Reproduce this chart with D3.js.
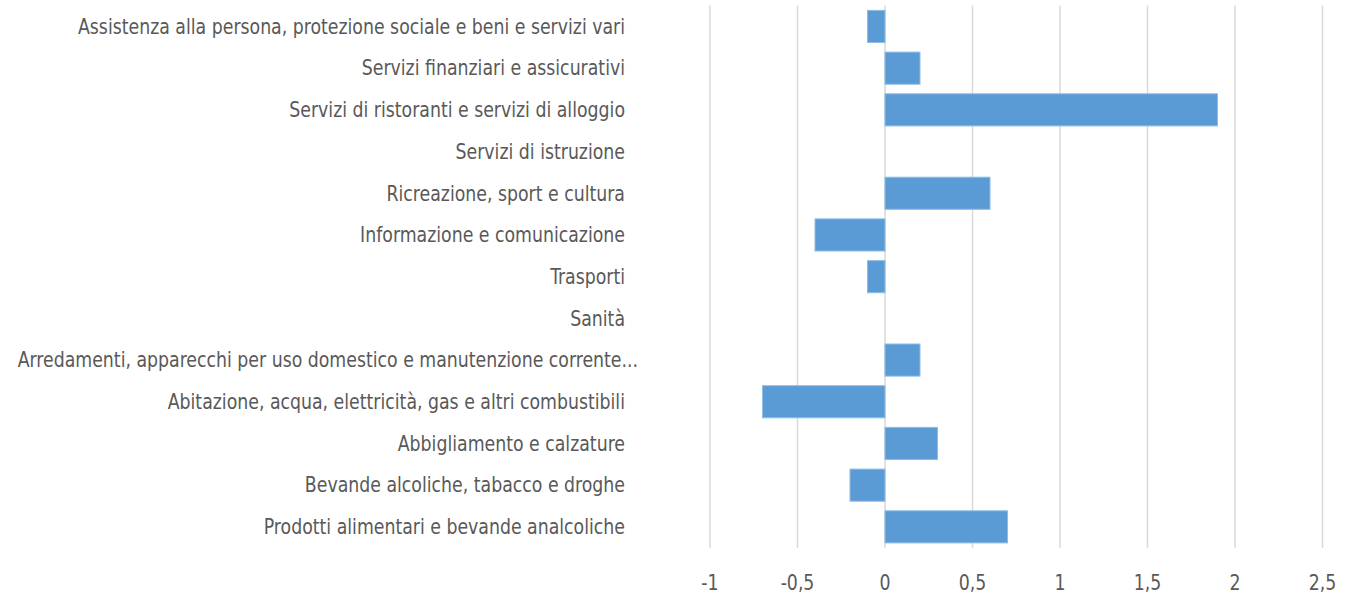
<!DOCTYPE html>
<html>
<head>
<meta charset="utf-8">
<script src="https://cdn.jsdelivr.net/npm/d3@7"></script>
<style>
  body { margin: 0; background: #fff; }
  text { font-family: "DejaVu Sans Condensed", "Liberation Sans Narrow", sans-serif; fill: #595959; }
</style>
</head>
<body>
<div id="chart"></div>
<script>
// categories top to bottom
const categories = [
    'Assistenza alla persona, protezione sociale e beni e servizi vari',
    'Servizi finanziari e assicurativi',
    'Servizi di ristoranti e servizi di alloggio',
    'Servizi di istruzione',
    'Ricreazione, sport e cultura',
    'Informazione e comunicazione',
    'Trasporti',
    'Sanità',
    'Arredamenti, apparecchi per uso domestico e manutenzione corrente...',
    'Abitazione, acqua, elettricità, gas e altri combustibili',
    'Abbigliamento e calzature',
    'Bevande alcoliche, tabacco e droghe',
    'Prodotti alimentari e bevande analcoliche'
];
const values = [-0.1, 0.2, 1.9, 0, 0.6, -0.4, -0.1, 0, 0.2, -0.7, 0.3, -0.2, 0.7];
const tickValues = [-1, -0.5, 0, 0.5, 1, 1.5, 2, 2.5];

const W = 1352, H = 599;
const margin = { top: 5.6, right: 30, bottom: 51, left: 710 };
const width = 1322.5 - margin.left;
const height = 547.7 - margin.top;

const svg = d3.select('#chart')
    .append('svg')
    .attr('width', W)
    .attr('height', H)
    .append('g')
    .attr('transform', `translate(${margin.left},${margin.top})`);

const xScale = d3.scaleLinear()
    .domain([-1, 2.5])
    .range([0, width]);

const yScale = d3.scaleBand()
    .domain(categories)
    .range([0, height])
    .paddingInner(0.23)
    .paddingOuter(0.115);

// gridlines
svg.selectAll('.grid')
    .data(tickValues)
    .enter()
    .append('line')
    .attr('x1', d => xScale(d))
    .attr('x2', d => xScale(d))
    .attr('y1', 0)
    .attr('y2', height)
    .attr('stroke', '#d9d9d9')
    .attr('stroke-width', 1.5);

// bars
svg.selectAll('.bar')
    .data(values)
    .enter()
    .append('rect')
    .attr('x', d => xScale(Math.min(0, d)))
    .attr('y', (d, i) => yScale(categories[i]))
    .attr('width', d => Math.abs(xScale(d) - xScale(0)))
    .attr('height', yScale.bandwidth())
    .attr('fill', '#5b9bd5')
    .attr('stroke', d => d === 0 ? 'none' : '#8fbce6')
    .attr('stroke-width', 1);

// category labels, squeezed with textLength to mimic a narrow font
const labels = svg.selectAll('.label')
    .data(categories)
    .enter()
    .append('text')
    .attr('class', 'label')
    .attr('y', d => yScale(d) + yScale.bandwidth() / 2)
    .attr('dy', '0.35em')
    .attr('text-anchor', 'start')
    .style('font-size', '21px')
    .text(d => d);

const k = 547 / labels.node().getComputedTextLength();
labels.each(function (d) {
    const w = this.getComputedTextLength() * k;
    const right = d.endsWith('...') ? 638 : 625;
    d3.select(this)
        .attr('x', right - w - margin.left)
        .attr('textLength', w)
        .attr('lengthAdjust', 'spacingAndGlyphs');
});

// x tick labels
const fmt = d => String(d).replace('.', ',');
svg.selectAll('.tick-label')
    .data(tickValues)
    .enter()
    .append('text')
    .attr('transform', d => `translate(${xScale(d)},${583 - margin.top}) scale(${k},1)`)
    .attr('dy', '0.35em')
    .attr('text-anchor', 'middle')
    .style('font-size', '21px')
    .text(fmt);
</script>
</body>
</html>
